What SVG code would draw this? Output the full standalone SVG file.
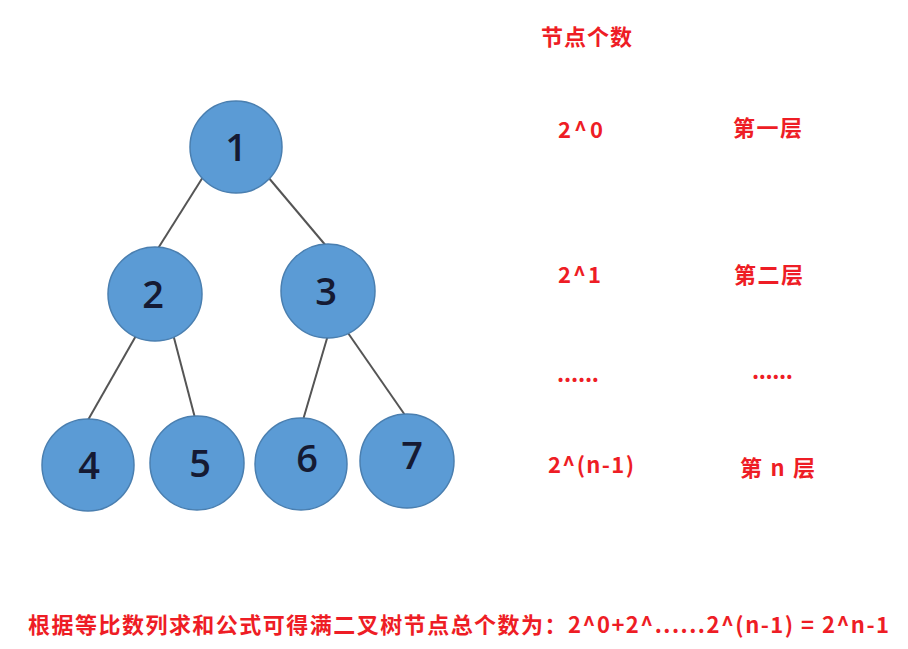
<svg xmlns="http://www.w3.org/2000/svg" width="908" height="649" viewBox="0 0 908 649">
<style>
.node circle{fill:#5b9bd5;stroke:#4a7fb0;stroke-width:1.5}
.node text{font-family:"Open Sans","Noto Sans",sans-serif;font-size:38px;font-weight:600;fill:#151a33;text-anchor:middle}
.edge{stroke:#555;stroke-width:2;fill:none}
.r{font-family:"Noto Sans CJK SC","Noto Sans",sans-serif;font-weight:bold;fill:#ee1d25;font-size:22px}
</style>
<rect width="908" height="649" fill="#fff"/>
<g id="connectors">
<line class="edge" x1="203" y1="177" x2="157" y2="250"/>
<line class="edge" x1="268" y1="177" x2="327" y2="247"/>
<line class="edge" x1="137" y1="334" x2="88" y2="420"/>
<line class="edge" x1="173" y1="334" x2="195" y2="418"/>
<line class="edge" x1="328" y1="335" x2="303" y2="420"/>
<line class="edge" x1="348" y1="333" x2="407" y2="418"/>
</g>
<g id="n1" class="node"><circle cx="236" cy="147" r="46"/><text x="236" y="161">1</text></g>
<g id="n2" class="node"><circle cx="155" cy="294" r="47"/><text x="153" y="308">2</text></g>
<g id="n3" class="node"><circle cx="328" cy="291" r="47"/><text x="326" y="305">3</text></g>
<g id="n4" class="node"><circle cx="88" cy="465" r="46"/><text x="89" y="479">4</text></g>
<g id="n5" class="node"><circle cx="197" cy="463" r="47"/><text x="200" y="477">5</text></g>
<g id="n6" class="node"><circle cx="301" cy="464" r="46"/><text x="307" y="472">6</text></g>
<g id="n7" class="node"><circle cx="407" cy="461" r="47"/><text x="412" y="469">7</text></g>
<g id="labels">
<text class="r" x="541" y="45" textLength="91">节点个数</text>
<text class="r" x="558" y="138" font-size="24" textLength="45">2^0</text>
<text class="r" x="733" y="136" textLength="69">第一层</text>
<text class="r" x="558" y="283" font-size="24" textLength="43">2^1</text>
<text class="r" x="734" y="283" textLength="69">第二层</text>
<text class="r" x="557" y="382" textLength="42">......</text>
<text class="r" x="752" y="379" textLength="41">......</text>
<text class="r" x="548" y="473" font-size="23" textLength="86">2^(n-1)</text>
<text class="r" x="740" y="476" textLength="75">第 n 层</text>
<text class="r" x="28" y="633" font-size="23" textLength="861">根据等比数列求和公式可得满二叉树节点总个数为：2^0+2^......2^(n-1) = 2^n-1</text>
</g>
</svg>
